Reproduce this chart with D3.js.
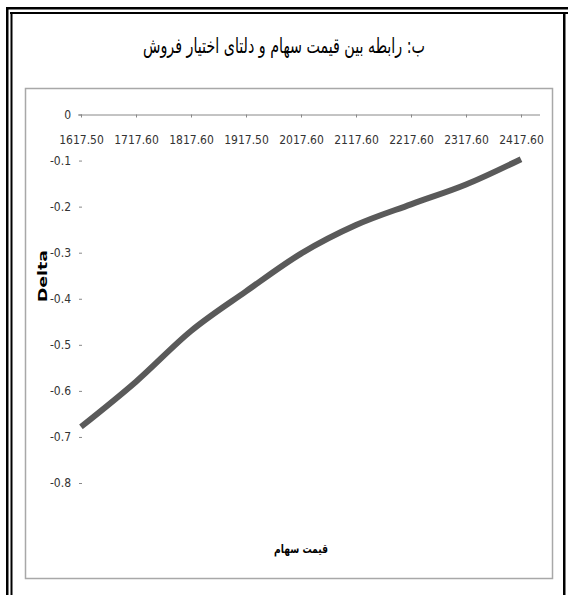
<!DOCTYPE html>
<html><head><meta charset="utf-8">
<script src="https://cdn.jsdelivr.net/npm/d3@7"></script>
<style>html,body{margin:0;padding:0;background:#fff;}svg{display:block;}</style>
</head><body>
<script>
const title = "ب: رابطه بین قیمت سهام و دلتای اختیار فروش";
const xTitle = "قیمت سهام";
const yTitle = "Delta";
const categories = ["1617.50","1717.60","1817.60","1917.50","2017.60","2117.60","2217.60","2317.60","2417.60"];
const deltaValues = [-0.678,-0.580,-0.470,-0.384,-0.302,-0.240,-0.195,-0.152,-0.097];
const yTicks = [0,-0.1,-0.2,-0.3,-0.4,-0.5,-0.6,-0.7,-0.8];

const W = 568, H = 595;
const svg = d3.select("body").append("svg").attr("width", W).attr("height", H);

// outer double frame
const frame = svg.append("g").attr("fill","#000");
frame.append("rect").attr("x",6).attr("y",7).attr("width",W-6).attr("height",2.5);
frame.append("rect").attr("x",10).attr("y",12).attr("width",W-10).attr("height",2);
frame.append("rect").attr("x",6).attr("y",7).attr("width",2.5).attr("height",H-7);
frame.append("rect").attr("x",10.5).attr("y",12).attr("width",2).attr("height",H-12);
frame.append("rect").attr("x",563).attr("y",12).attr("width",2.5).attr("height",H-12);

// title
svg.append("text").attr("transform","translate(284,53) scale(0.68,1)").attr("text-anchor","middle")
  .attr("direction","rtl")
  .style("font-family","'DejaVu Sans', sans-serif").style("font-size","21px")
  .text(title);

// chart box
svg.append("rect").attr("x",25.5).attr("y",88.5).attr("width",527).attr("height",490)
  .attr("fill","#fff").attr("stroke","#a8a8a8").attr("stroke-width",1.5);

const x = d3.scalePoint().domain(categories).range([81, 521]);
const y = d3.scaleLinear().domain([-0.8, 0]).range([483, 114.5]);

const tickFont = "'Liberation Sans Narrow','DejaVu Sans Condensed',sans-serif";

// y axis (no line, short dashes)
const yAxis = d3.axisLeft(y).tickValues(yTicks).tickSize(4).tickPadding(8)
  .tickFormat(d => d === 0 ? "0" : "-" + d3.format(".1f")(Math.abs(d)));
const gy = svg.append("g").attr("transform","translate(83,0)").call(yAxis);
gy.select(".domain").remove();
gy.selectAll(".tick line").attr("stroke","#888").attr("x2",-4).attr("x1",-1);
gy.selectAll(".tick text").style("font-family",tickFont).style("font-size","12px").attr("fill","#333");

// x axis at y=0 line
const xAxis = d3.axisBottom(x).tickSize(3).tickPadding(18);
const gx = svg.append("g").attr("transform",`translate(0,${y(0)})`).call(xAxis);
gx.select(".domain").attr("d", `M78,0.5H540`).attr("stroke","#888");
gx.selectAll(".tick line").attr("stroke","#888");
gx.selectAll(".tick text").style("font-family",tickFont).style("font-size","12px").attr("fill","#333");

// line
const data = categories.map((c,i)=>({c, v: deltaValues[i]}));
svg.append("path").datum(data)
  .attr("d", d3.line().x(d=>x(d.c)).y(d=>y(d.v)).curve(d3.curveMonotoneX))
  .attr("fill","none").attr("stroke","#5a5a5a").attr("stroke-width",6)
  .attr("stroke-linejoin","round");

// axis titles
svg.append("text").attr("transform","translate(47,276) rotate(-90)")
  .attr("text-anchor","middle").attr("textLength",52).attr("lengthAdjust","spacingAndGlyphs")
  .style("font-family","'DejaVu Sans',sans-serif").style("font-size","13px").style("font-weight","bold")
  .text(yTitle);
svg.append("text").attr("x",301).attr("y",553).attr("text-anchor","middle").attr("direction","rtl")
  .attr("textLength",54).attr("lengthAdjust","spacingAndGlyphs")
  .style("font-family","'DejaVu Sans',sans-serif").style("font-size","12px").style("font-weight","bold")
  .text(xTitle);
</script>
</body></html>
